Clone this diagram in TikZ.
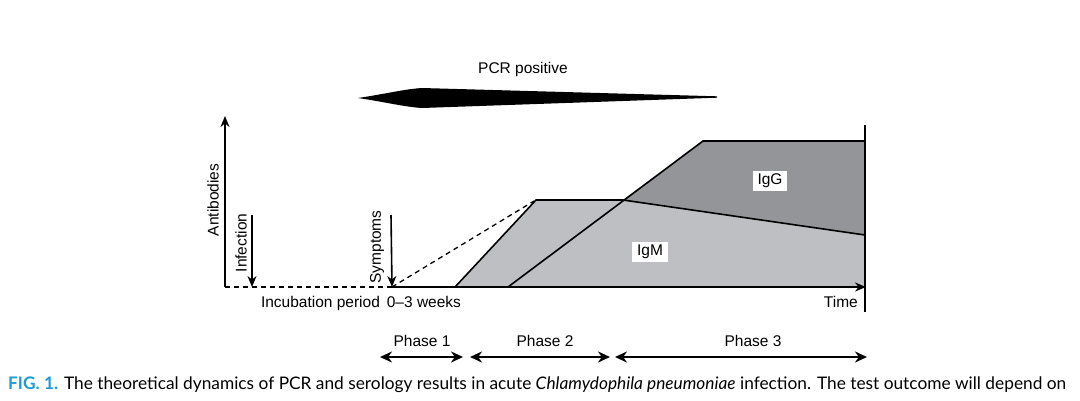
\documentclass[tikz,border=0pt]{standalone}
\usepackage{fontspec}
\setmainfont{Liberation Sans}
\newfontfamily\capfont{Lato}
\usetikzlibrary{arrows.meta, positioning}
\definecolor{iggray}{HTML}{939598}
\definecolor{imgray}{HTML}{BDBFC2}
\definecolor{figblue}{HTML}{1E9AD6}
\tikzset{
  >={Stealth[length=11pt, width=9pt]},
  every picture/.style={line join=miter},
  lbl/.style={font=\fontsize{15.5}{18}\selectfont, inner sep=1pt},
  axis/.style={->, line width=1.6pt},
  curve/.style={line width=1.6pt},
  phase/.style={<->, >={Stealth[length=12pt, width=11pt]}, line width=2pt},
  tag/.style={lbl, fill=white, inner xsep=5pt, inner ysep=3pt},
  % dashed parts of the time line
  pre/.style={line width=1.3pt, dash pattern=on 5pt off 4pt},
}
\begin{document}
\begin{tikzpicture}[x=1pt, y=-1pt]
  \useasboundingbox (0,0) rectangle (1080,400);
  % PCR window
  \node[lbl] (pcr) at (523,69) {PCR positive};
  \fill (358,98) .. controls (385,94) and (405,89) .. (422,88) -- (717,96.3)
    -- (717,97.7) -- (422,108) .. controls (405,107) and (385,102) .. (358,98) -- cycle;
  % antibody levels
  \fill[imgray] (455,287) -- (536,200) -- (623,200) -- (865,235) -- (865,287) -- cycle;
  \fill[iggray] (623,200) -- (703,141) -- (865,141) -- (865,235) -- cycle;
  \draw[curve] (455,287) -- (536,200) -- (623,200) -- (865,235);
  \draw[curve] (508,287) -- (703,141) -- (865,141);
  \node[tag] (igg) at (770,181) {IgG};
  \node[tag] (igm) at (650,252) {IgM};
  % axes
  \coordinate (o) at (225,287);
  \coordinate (ytop) at (225,116);
  \coordinate (sym) at (392,287);
  \coordinate (tend) at (866,287);
  \coordinate (peak) at (534,201);
  \draw[axis] (o) -- (ytop);
  \draw[pre] (o) -- (sym);
  \draw[pre] (sym) -- (peak);
  \draw[axis] (sym) -- (tend);
  \coordinate (edgetop) at (865,125);
  \coordinate (edgebot) at (865,312);
  \draw[curve] (edgetop) -- (edgebot);
  \node[lbl, rotate=90] (ab) at (213,200) {Antibodies};
  \node[lbl, anchor=east] (time) at (859,302) {Time};
  \node[lbl] (inc) at (361,303) {Incubation period\hspace{0.45em}0--3 weeks};
  % onset markers
  \coordinate (inftop) at (252,215);
  \coordinate (infbot) at (252,287);
  \coordinate (symtop) at (391,215);
  \draw[axis] (inftop) -- (infbot);
  \draw[axis] (symtop) -- (sym);
  \node[lbl, rotate=90] (inf) at (241,243) {Infection};
  \node[lbl, rotate=90] (sy) at (377,247) {Symptoms};
  % phases
  \node[lbl] (ph1) at (422,341) {Phase 1};
  \node[lbl] (ph2) at (545,341) {Phase 2};
  \node[lbl] (ph3) at (753,341) {Phase 3};
  \coordinate (p1a) at (380,357);
  \coordinate (p1b) at (463,357);
  \coordinate (p2a) at (470,357);
  \coordinate (p2b) at (610,357);
  \coordinate (p3a) at (615,357);
  \coordinate (p3b) at (867,357);
  \draw[phase] (p1a) -- (p1b);
  \draw[phase] (p2a) -- (p2b);
  \draw[phase] (p3a) -- (p3b);
  % caption
  \node[anchor=base west, inner sep=0pt, font=\capfont\fontsize{17.3}{20}\selectfont] (cap) at (8,389)
    {\textcolor{figblue}{\textbf{FIG. 1.}} The theoretical dynamics of PCR and serology results in acute \textit{Chlamydophila pneumoniae} infection. The test outcome will depend on};
\end{tikzpicture}
\end{document}
